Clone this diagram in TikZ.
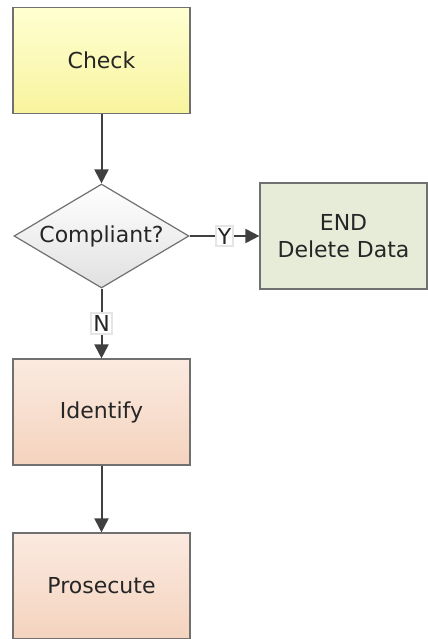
\documentclass[tikz,border=0pt]{standalone}
\usepackage{fontspec}
\setmainfont{DejaVu Sans}
\usetikzlibrary{shapes.geometric,arrows.meta}

\definecolor{edgegray}{HTML}{707070}
\definecolor{arrowgray}{HTML}{404040}
\definecolor{yellowtop}{HTML}{FFFFD2}
\definecolor{yellowbot}{HTML}{F8F49E}
\definecolor{peachtop}{HTML}{FBEAE0}
\definecolor{peachbot}{HTML}{F4D3BE}
\definecolor{greenbox}{HTML}{E7ECD9}

\tikzset{
  stepbox/.style={draw=edgegray, line width=0.6pt, rectangle,
    minimum width=88.5pt, minimum height=53pt, font=\fontsize{11}{13.5}\selectfont,
    align=center, text=black!85},
  decision/.style={draw=edgegray, line width=0.6pt, diamond, aspect=1.7, inner sep=0pt,
    minimum width=87.5pt, minimum height=52pt, top color=white, bottom color=black!12,
    font=\fontsize{11}{13.5}\selectfont, text=black!85},
  flow/.style={draw=arrowgray, line width=1pt, -{Triangle[length=7pt,width=7pt]}},
  answer/.style={fill=white, draw=black!10, inner sep=1pt,
    font=\fontsize{11}{13.5}\selectfont, text=black!85}
}

\begin{document}
\begin{tikzpicture}[x=0.5pt,y=-0.5pt]
    \useasboundingbox (0,0) rectangle (428,639);
    % main column at x = 101.5
    \node[stepbox, top color=yellowtop, bottom color=yellowbot] (check) at (101.5,60.5) {Check};
    \node[decision] (compliant) at (101.5,236) {Compliant?};
    \node[stepbox, fill=greenbox, minimum width=83.5pt] (enddel) at (343.5,236) {END\\Delete Data};
    \node[stepbox, top color=peachtop, bottom color=peachbot] (identify) at (101.5,412) {Identify};
    \node[stepbox, top color=peachtop, bottom color=peachbot] (prosecute) at (101.5,586) {Prosecute};
    \draw [flow] (check) -- (compliant);
    \draw [flow] (compliant) -- node[answer]{Y} (enddel);
    \draw [flow] (compliant) -- node[answer]{N} (identify);
    \draw [flow] (identify) -- (prosecute);
\end{tikzpicture}
\end{document}
